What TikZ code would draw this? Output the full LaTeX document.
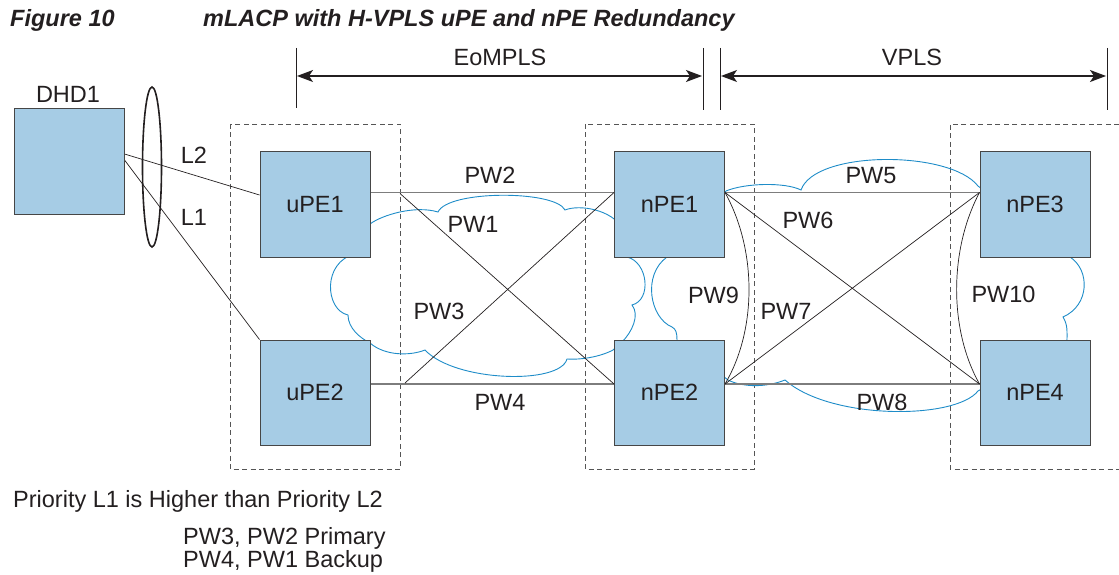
\documentclass[tikz,border=0pt]{standalone}
\usepackage{fontspec}
\setmainfont{Liberation Sans}
\usetikzlibrary{arrows.meta,shapes.geometric}
\definecolor{boxfill}{RGB}{166,204,229}
\definecolor{cloudblue}{RGB}{30,140,200}
\definecolor{ink}{RGB}{35,31,32}
\definecolor{boxline}{RGB}{70,70,70}
\definecolor{hline}{RGB}{125,125,125}
\definecolor{dashc}{RGB}{85,85,85}
\pgfdeclarelayer{bg}
\pgfsetlayers{bg,main}
\begin{document}
\begin{tikzpicture}[x=1pt,y=-1pt,
  every node/.style={text=ink, font=\fontsize{23.5}{27}\selectfont, inner sep=0pt},
  pe/.style={draw=boxline, line width=1pt, fill=boxfill, minimum width=110pt, minimum height=105pt},
  grp/.style={draw=dashc, line width=0.9pt, dash pattern=on 5pt off 3.5pt},
  cloudline/.style={draw=cloudblue, line width=0.9pt},
  pwline/.style={draw=hline, line width=1.3pt},
  xline/.style={draw=ink, line width=0.7pt},
  bar/.style={draw=ink, line width=1pt},
  dim/.style={draw=ink, line width=1.2pt, {Stealth[length=16pt,width=12pt,inset=4pt]}-{Stealth[length=16pt,width=12pt,inset=4pt]}},
  titlefont/.style={font=\fontsize{23.5}{27}\selectfont\bfseries\itshape}
]
\useasboundingbox (0,0) rectangle (1119,575);

% title
\node[titlefont, anchor=base west] (fignum) at (10,27) {Figure 10};
\node[titlefont, anchor=base west] (title) at (203,27) {mLACP with H-VPLS uPE and nPE Redundancy};

% boxes
\node[pe] (dhd) at (69,161.5) {};
\node (dhdlbl) at (68,94) {DHD1};
\node[pe] (upe1) at (315,204.5) {uPE1};
\node[pe] (upe2) at (315,392.5) {uPE2};
\node[pe] (npe1) at (669.5,204.5) {nPE1};
\node[pe] (npe2) at (669.5,392.5) {nPE2};
\node[pe] (npe3) at (1035,204.5) {nPE3};
\node[pe] (npe4) at (1035,392.5) {nPE4};

% LAG ellipse
\node[ellipse, draw=ink, line width=1.6pt, minimum width=19pt, minimum height=160pt] (lag) at (152,167) {};

% labels
\node (l2) at (194,155) {L2};
\node (l1) at (194,217.5) {L1};
\node (pw2) at (490,175.5) {PW2};
\node (pw1) at (473,224.5) {PW1};
\node (pw3) at (439,311.5) {PW3};
\node (pw4) at (500,402.5) {PW4};
\node (pw9) at (713.5,295) {PW9};
\node (pw5) at (871,175.5) {PW5};
\node (pw6) at (808,220) {PW6};
\node (pw7) at (786,311) {PW7};
\node (pw8) at (882,402) {PW8};
\node (pw10) at (1003.5,294.5) {PW10};
\node (eompls) at (500,57.5) {EoMPLS};
\node (vpls) at (912,57.5) {VPLS};
\node[anchor=base west] (note1) at (13,507) {Priority L1 is Higher than Priority L2};
\node[anchor=base west] (note2) at (183,544) {PW3, PW2 Primary};
\node[anchor=base west] (note3) at (183,567) {PW4, PW1 Backup};

% coordinates
\coordinate (b1t) at (296,48); \coordinate (b1b) at (296,108);
\coordinate (b2t) at (703,48); \coordinate (b2b) at (703,110);
\coordinate (b3t) at (720,48); \coordinate (b3b) at (720,110);
\coordinate (b4t) at (1107,48); \coordinate (b4b) at (1107,110);
\coordinate (a1) at (297,76); \coordinate (a2) at (702,76);
\coordinate (a3) at (721,76); \coordinate (a4) at (1106,76);
\coordinate (d1) at (400,193.5);
\coordinate (d2) at (405,383);

\begin{pgfonlayer}{bg}
% groups
\draw[grp] (230,124) rectangle (400,469);
\draw[grp] (585,124) rectangle (754,469);
\draw[grp] (1119,124) -- (950,124) -- (950,469) -- (1119,469);

% clouds
\draw[cloudline] (370,224) .. controls (382,215) and (415,205) .. (438,212)
  .. controls (448,190) and (555,190) .. (565,210)
  .. controls (580,204) and (612,210) .. (622,228) -- (627,257)
  .. controls (648,262) and (652,300) .. (632,305)
  .. controls (640,315) and (632,332) .. (622,342) -- (613,350)
  .. controls (600,357) and (580,360) .. (567,359)
  .. controls (560,385) and (455,382) .. (425,350)
  .. controls (410,356) and (385,356) .. (370,343)
  .. controls (360,338) and (348,328) .. (348,315)
  .. controls (325,310) and (322,262) .. (355,254) -- cycle;
\draw[cloudline] (726,191) .. controls (745,183) and (785,182) .. (801,190)
  .. controls (815,150) and (950,150) .. (978,186) -- (1070,257)
  .. controls (1090,270) and (1090,305) .. (1063,317)
  .. controls (1068,325) and (1067,333) .. (1067,340) -- (978,391)
  .. controls (955,420) and (830,420) .. (785,380)
  .. controls (765,388) and (742,387) .. (728,380) -- (677,340)
  .. controls (677,333) and (676,329) .. (672,327)
  .. controls (650,318) and (642,275) .. (667,257) -- cycle;

% dimension bars and arrows
\draw[bar] (b1t) -- (b1b);
\draw[bar] (b2t) -- (b2b);
\draw[bar] (b3t) -- (b3b);
\draw[bar] (b4t) -- (b4b);
\draw[dim] (a1) -- (a2);
\draw[dim] (a3) -- (a4);

% access links
\draw[xline] ([yshift=7.5pt]dhd.east) -- ([yshift=9.5pt]upe1.west);
\draw[xline] ([yshift=1.5pt]dhd.east) -- (upe2.north west);

% pseudowires
\draw[pwline] ([yshift=12pt]upe1.east) -- ([yshift=12pt]npe1.west);
\draw[pwline] ([yshift=8.5pt]upe2.east) -- ([yshift=8.5pt]npe2.west);
\draw[xline] (d1) -- ([yshift=8.5pt]npe2.west);
\draw[xline] (d2) -- ([yshift=12pt]npe1.west);
\draw[pwline] ([yshift=12pt]npe1.east) -- ([yshift=12pt]npe3.west);
\draw[pwline] ([yshift=8.5pt]npe2.east) -- ([yshift=8.5pt]npe4.west);
\draw[xline] ([yshift=12pt]npe1.east) -- ([yshift=8.5pt]npe4.west);
\draw[xline] ([yshift=8.5pt]npe2.east) -- ([yshift=12pt]npe3.west);
\draw[xline] ([yshift=12pt]npe1.east) .. controls (757,250) and (757,330) .. ([yshift=8.5pt]npe2.east);
\draw[xline] ([yshift=12pt]npe3.west) .. controls (949,250) and (949,330) .. ([yshift=8.5pt]npe4.west);
\end{pgfonlayer}
\end{tikzpicture}
\end{document}
